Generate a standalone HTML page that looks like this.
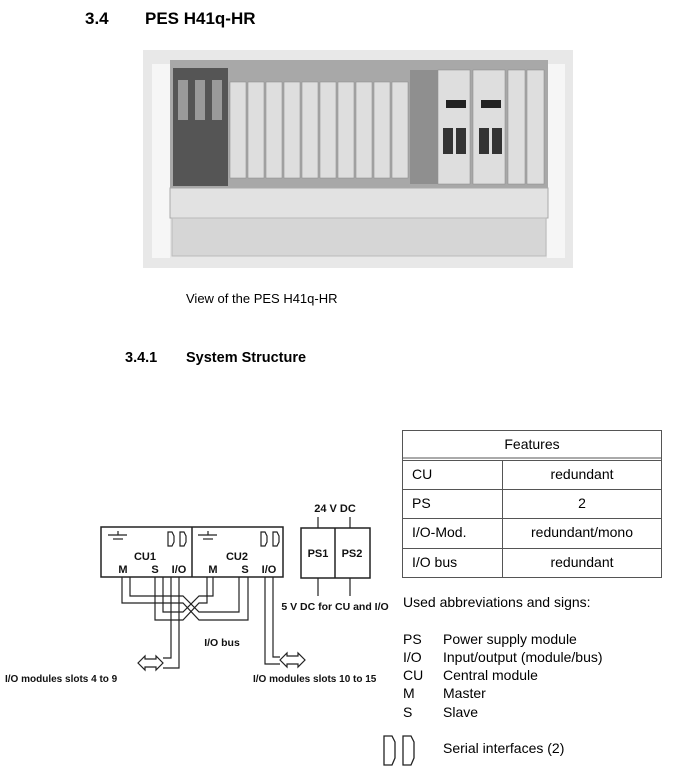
<!DOCTYPE html>
<html><head><meta charset="utf-8"><style>
body{margin:0;background:#fff;width:693px;height:770px;overflow:hidden;font-family:"Liberation Sans",Arial,sans-serif}
</style></head><body>
<svg width="693" height="770" viewBox="0 0 693 770" xmlns="http://www.w3.org/2000/svg" font-family="Liberation Sans, Arial, sans-serif">
<text x="85" y="24" font-size="17" font-weight="bold">3.4</text>
<text x="145" y="24" font-size="17" font-weight="bold">PES H41q-HR</text>
<!-- photo -->
<rect x="143" y="50" width="430" height="218" fill="#e8e8e8"/>
<rect x="152" y="64" width="18" height="194" fill="#f6f6f6"/>
<rect x="547" y="64" width="18" height="194" fill="#f6f6f6"/>
<rect x="170" y="60" width="378" height="128" fill="#a8a8a8"/>
<rect x="173" y="68" width="55" height="118" fill="#555"/>
<g fill="#9a9a9a"><rect x="178" y="80" width="10" height="40"/><rect x="195" y="80" width="10" height="40"/><rect x="212" y="80" width="10" height="40"/></g>
<g fill="#dedede" stroke="#888" stroke-width="0.5">
<rect x="230" y="82" width="16" height="96"/><rect x="248" y="82" width="16" height="96"/><rect x="266" y="82" width="16" height="96"/><rect x="284" y="82" width="16" height="96"/><rect x="302" y="82" width="16" height="96"/><rect x="320" y="82" width="16" height="96"/><rect x="338" y="82" width="16" height="96"/><rect x="356" y="82" width="16" height="96"/><rect x="374" y="82" width="16" height="96"/><rect x="392" y="82" width="16" height="96"/>
<rect x="438" y="70" width="32" height="114"/><rect x="473" y="70" width="32" height="114"/><rect x="508" y="70" width="17" height="114"/><rect x="527" y="70" width="17" height="114"/>
</g>
<rect x="410" y="70" width="28" height="114" fill="#8f8f8f"/>
<rect x="446" y="100" width="20" height="8" fill="#222"/><rect x="481" y="100" width="20" height="8" fill="#222"/>
<rect x="443" y="128" width="10" height="26" fill="#333"/><rect x="456" y="128" width="10" height="26" fill="#333"/>
<rect x="479" y="128" width="10" height="26" fill="#333"/><rect x="492" y="128" width="10" height="26" fill="#333"/>
<rect x="170" y="188" width="378" height="30" fill="#e2e2e2" stroke="#aaa"/>
<rect x="172" y="218" width="374" height="38" fill="#d6d6d6" stroke="#bbb"/>
<text x="186" y="303" font-size="13">View of the PES H41q-HR</text>
<text x="125" y="362" font-size="14.5" font-weight="bold">3.4.1</text>
<text x="186" y="362" font-size="14.5" font-weight="bold">System Structure</text>
<!-- table -->
<g stroke="#555" stroke-width="1" fill="none">
<rect x="402.5" y="430.5" width="259" height="147"/>
<line x1="402" y1="458" x2="662" y2="458"/><line x1="402" y1="460.5" x2="662" y2="460.5"/>
<line x1="402" y1="489.5" x2="662" y2="489.5"/><line x1="402" y1="518.5" x2="662" y2="518.5"/><line x1="402" y1="548.5" x2="662" y2="548.5"/>
<line x1="502.5" y1="460" x2="502.5" y2="578"/>
</g>
<g font-size="14">
<text x="532" y="449" text-anchor="middle">Features</text>
<text x="412" y="479">CU</text><text x="582" y="479" text-anchor="middle">redundant</text>
<text x="412" y="508">PS</text><text x="582" y="508" text-anchor="middle">2</text>
<text x="412" y="537">I/O-Mod.</text><text x="582" y="537" text-anchor="middle">redundant/mono</text>
<text x="412" y="567">I/O bus</text><text x="582" y="567" text-anchor="middle">redundant</text>
<text x="403" y="607">Used abbreviations and signs:</text>
<text x="403" y="644">PS</text><text x="443" y="644">Power supply module</text>
<text x="403" y="662">I/O</text><text x="443" y="662">Input/output (module/bus)</text>
<text x="403" y="680">CU</text><text x="443" y="680">Central module</text>
<text x="403" y="698">M</text><text x="443" y="698">Master</text>
<text x="403" y="717">S</text><text x="443" y="717">Slave</text>
<text x="443" y="753">Serial interfaces (2)</text>
</g>
<g stroke="#222" stroke-width="1.3" fill="none">
<path d="M384 736 L384 765 L392 765 L395 758 L395 742 L392 736 Z"/>
<path d="M403 736 L403 765 L411 765 L414 758 L414 742 L411 736 Z"/>
</g>
<!-- diagram -->
<g stroke="#222" stroke-width="1.2" fill="none">
<rect x="101" y="527" width="182" height="50" stroke-width="1.5"/>
<line x1="192" y1="527" x2="192" y2="577" stroke-width="1.5"/>
<rect x="301" y="528" width="69" height="50" stroke-width="1.5"/>
<line x1="335" y1="528" x2="335" y2="578" stroke-width="1.5"/>
<line x1="318" y1="517" x2="318" y2="528"/><line x1="350" y1="517" x2="350" y2="528"/>
<line x1="318" y1="578" x2="318" y2="596"/><line x1="350" y1="578" x2="350" y2="596"/>
<line x1="108" y1="535" x2="127" y2="535"/><line x1="113" y1="539" x2="123" y2="539"/><line x1="118" y1="531" x2="118" y2="535"/>
<line x1="198" y1="535" x2="217" y2="535"/><line x1="203" y1="539" x2="213" y2="539"/><line x1="208" y1="531" x2="208" y2="535"/>
<path d="M168 532 L168 546 L172 546 L174 542 L174 536 L172 532 Z"/><path d="M180 532 L180 546 L184 546 L186 542 L186 536 L184 532 Z"/>
<path d="M261 532 L261 546 L265 546 L267 542 L267 536 L265 532 Z"/><path d="M273 532 L273 546 L277 546 L279 542 L279 536 L277 532 Z"/>
<path d="M122 577 V603 H183 L199 620 H248 V577"/>
<path d="M130 577 V596 H183 L199 612 H239 V577"/>
<path d="M155 577 V620 H183 L199 603 H207 V577"/>
<path d="M163 577 V612 H183 L199 596 H213 V577"/>
<path d="M171 577 V658 H163"/>
<path d="M179 577 V668 H163"/>
<path d="M265 577 V664 H280"/>
<path d="M273 577 V657 H280"/>
<path d="M138 663 L145 656 V659 H156 V656 L163 663 L156 670 V667 H145 V670 Z" fill="#fff"/>
<path d="M280 660 L287 653 V656 H298 V653 L305 660 L298 667 V664 H287 V667 Z" fill="#fff"/>
</g>
<g font-size="11" font-weight="bold" fill="#111">
<text x="145" y="560" text-anchor="middle">CU1</text>
<text x="237" y="560" text-anchor="middle">CU2</text>
<text x="123" y="573" text-anchor="middle">M</text><text x="155" y="573" text-anchor="middle">S</text><text x="179" y="573" text-anchor="middle">I/O</text>
<text x="213" y="573" text-anchor="middle">M</text><text x="245" y="573" text-anchor="middle">S</text><text x="269" y="573" text-anchor="middle">I/O</text>
<text x="318" y="557" text-anchor="middle">PS1</text><text x="352" y="557" text-anchor="middle">PS2</text>
<text x="335" y="512" text-anchor="middle">24 V DC</text>
<text x="335" y="610" text-anchor="middle" font-size="10.5">5 V DC for CU and I/O</text>
<text x="222" y="646" text-anchor="middle" font-size="10.5">I/O bus</text>
<text x="5" y="682" font-size="10">I/O modules slots 4 to 9</text>
<text x="253" y="682" font-size="10">I/O modules slots 10 to 15</text>
</g>
</svg>
</body></html>
